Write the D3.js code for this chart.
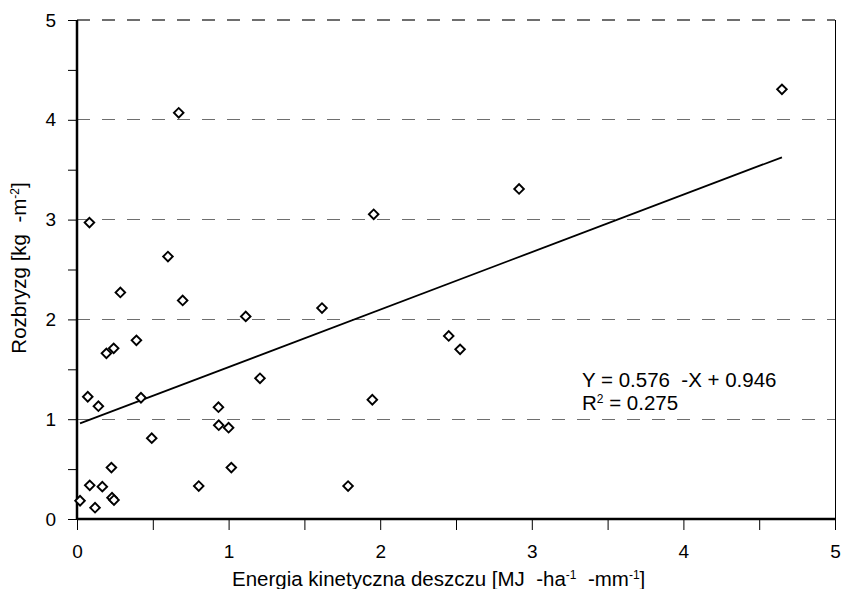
<!DOCTYPE html>
<html><head><meta charset="utf-8">
<script src="https://cdn.jsdelivr.net/npm/d3@7"></script>
<style>body{margin:0;background:#fff}svg{display:block;font-family:"Liberation Sans",Arial,sans-serif}</style>
</head><body><svg id="c" width="844" height="589"></svg>
<script>
const xValues = [0.671,0.082,0.600,0.286,0.697,1.113,0.392,0.194,0.242,1.207,0.071,0.141,0.422,0.933,0.935,1.000,0.493,0.227,1.018,0.084,0.167,0.803,0.020,0.231,0.244,0.119,1.616,2.452,2.527,1.948,1.788,1.957,2.916,4.650];
const yValues = [4.07,2.97,2.63,2.27,2.19,2.03,1.79,1.66,1.71,1.41,1.225,1.13,1.215,1.12,0.94,0.915,0.81,0.515,0.515,0.337,0.324,0.33,0.183,0.213,0.19,0.113,2.114,1.834,1.70,1.195,0.33,3.053,3.307,4.305];
const xTicks = [0,1,2,3,4,5];
const yTicks = [0,1,2,3,4,5];
const minorTicks = [0.5,1.5,2.5,3.5,4.5];
const gridValues = [1,2,3,4,5];
const trend = {slope:0.576, intercept:0.946};

const svg = d3.select("#c");
const L=77, R=835, T=20, B=519;
const x = d3.scaleLinear().domain([0,5]).range([L,R]);
const y = d3.scaleLinear().domain([0,5]).range([B,T]);

// gridlines
svg.append("g").selectAll("line").data(gridValues).join("line")
  .attr("x1",L).attr("x2",R).attr("y1",d=>y(d)).attr("y2",d=>y(d))
  .attr("stroke","#6e6e6e").attr("stroke-width",1.3).attr("stroke-dasharray","13,12")
  .attr("shape-rendering","crispEdges");
// right border
svg.append("line").attr("x1",R).attr("x2",R).attr("y1",T).attr("y2",B).attr("stroke","#000").attr("stroke-width",1).attr("shape-rendering","crispEdges");

// x axis
const xAxis = svg.append("g").attr("transform",`translate(0,${B})`)
  .call(d3.axisBottom(x).tickValues(xTicks).tickSize(11).tickPadding(15).tickFormat(d3.format("d")));
svg.append("g").attr("transform",`translate(0,${B})`)
  .call(d3.axisBottom(x).tickValues(minorTicks).tickSize(11).tickFormat(""))
  .call(g=>g.select(".domain").remove());
// y axis
const yAxis = svg.append("g").attr("transform",`translate(${L},0)`)
  .call(d3.axisLeft(y).tickValues(yTicks).tickSize(9).tickPadding(12).tickFormat(d3.format("d")));
svg.append("g").attr("transform",`translate(${L},0)`)
  .call(d3.axisLeft(y).tickValues(minorTicks).tickSize(9).tickFormat(""))
  .call(g=>g.select(".domain").remove());

svg.selectAll(".tick line").attr("stroke","#000").attr("stroke-width",1);
svg.selectAll(".tick text").attr("font-size",19).attr("fill","#000").attr("font-family","Liberation Sans, Arial, sans-serif");
xAxis.select(".domain").attr("d",`M${L},0H${R}`).attr("stroke-width",2.5).attr("stroke","#000");
yAxis.select(".domain").attr("d",`M0,${B}V${T}`).attr("stroke-width",2.5).attr("stroke","#000");

// trend line
const xMin=d3.min(xValues), xMax=d3.max(xValues);
svg.append("line")
  .attr("x1",x(xMin)).attr("y1",y(trend.intercept+trend.slope*xMin))
  .attr("x2",x(xMax)).attr("y2",y(trend.intercept+trend.slope*xMax))
  .attr("stroke","#000").attr("stroke-width",1.8);

// points
const sym = d3.symbol().type(d3.symbolSquare).size(46);
svg.append("g").selectAll("path").data(xValues.map((v,i)=>[v,yValues[i]])).join("path")
  .attr("d",sym)
  .attr("transform",d=>`translate(${x(d[0])},${y(d[1])}) rotate(45)`)
  .attr("fill","#fff").attr("stroke","#000").attr("stroke-width",1.9);

// equation
const eq = svg.append("text").attr("x",582).attr("y",387).attr("font-size",20.5).attr("fill","#000").style("white-space","pre");
eq.text("Y = 0.576  -X + 0.946");
const r2 = svg.append("text").attr("x",582).attr("y",410).attr("font-size",20.5).attr("fill","#000").style("white-space","pre");
r2.append("tspan").text("R");
r2.append("tspan").text("2").attr("font-size",12).attr("dy",-7);
r2.append("tspan").text(" = 0.275").attr("dy",7);

// x title
const xt = svg.append("text").attr("x",232).attr("y",586).attr("font-size",20.5).attr("fill","#000").style("white-space","pre");
xt.append("tspan").text("Energia kinetyczna deszczu [MJ  -ha");
xt.append("tspan").text("-1").attr("font-size",12).attr("dy",-7);
xt.append("tspan").text("  -mm").attr("dy",7);
xt.append("tspan").text("-1").attr("font-size",12).attr("dy",-7);
xt.append("tspan").text("]").attr("dy",7);

// y title
const yt = svg.append("text").attr("transform","translate(26,268) rotate(-90)").attr("text-anchor","middle").attr("font-size",20.5).attr("fill","#000").style("white-space","pre");
yt.append("tspan").text("Rozbryzg [kg  -m");
yt.append("tspan").text("-2").attr("font-size",12).attr("dy",-7);
yt.append("tspan").text("]").attr("dy",7);
</script></body></html>
